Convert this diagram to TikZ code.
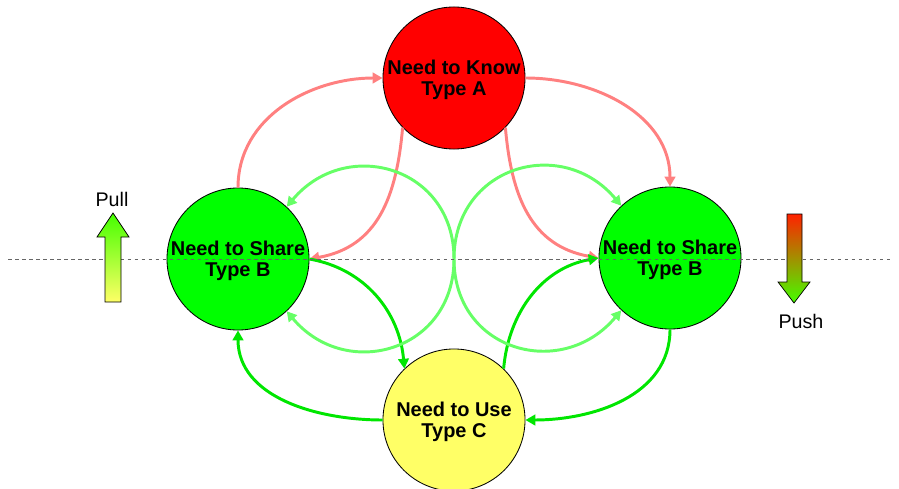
\documentclass[tikz,border=0pt]{standalone}
\usepackage{fontspec}
\setmainfont{Liberation Sans}
\usetikzlibrary{arrows.meta}
\definecolor{knowred}{HTML}{FF0000}
\definecolor{sharegreen}{HTML}{00FF00}
\definecolor{useyellow}{HTML}{FFFF66}
\definecolor{linkpink}{HTML}{FF8080}
\definecolor{linkgreen}{HTML}{00E600}
\definecolor{linklight}{HTML}{66FF66}
\definecolor{pushred}{HTML}{FF2200}
\definecolor{pullgreen}{HTML}{44FF00}
\definecolor{pullyellow}{HTML}{FFFF66}
\definecolor{levelgray}{HTML}{666666}

\begin{document}
\begin{tikzpicture}[
  x=0.025cm,y=0.025cm,
  >={Triangle[length=7pt,width=7.5pt]},
  need/.style={circle,draw=black,line width=.6pt,minimum size=3.55cm,
    inner sep=0pt,align=center,font=\bfseries\fontsize{14.2}{15}\selectfont,
    text depth=-4.5pt},
  link/.style={line width=2.1pt,->},
  blockarrow/.style={draw=black,line width=.5pt},
  every node/.style={font=\fontsize{14}{16}\selectfont}
]
  \useasboundingbox (0,0) rectangle (899,488);
  \node[need,fill=knowred] (know) at (454,410) {Need to Know\\Type A};
  \node[need,fill=sharegreen] (shareL) at (238,229) {Need to Share\\Type B};
  \node[need,fill=sharegreen] (shareR) at (670,230) {Need to Share\\Type B};
  \node[need,fill=useyellow] (use) at (454,68) {Need to Use\\Type C};
  \coordinate (cross) at (454,229);
  \coordinate (levelL) at (8,229);
  \coordinate (levelR) at (890,229);

  % pull from A
  \draw[link,linkpink] (shareL.north) to[out=90,in=180] (know.west);
  \draw[link,linkpink] (know.east) to[out=0,in=90] (shareR.north);
  \draw[link,linkpink] (know.224) to[out=-95,in=10,looseness=1.1] (shareL.east);
  \draw[link,linkpink] (know.-44) to[out=-85,in=170,looseness=1.1] (shareR.west);
  % B and C
  \draw[link,linkgreen] (shareL.east) to[out=-10,in=95] (use.134);
  \draw[link,linkgreen] (use.46) to[out=85,in=190] (shareR.west);
  \draw[link,linkgreen] (use.west) to[out=180,in=-90] (shareL.south);
  \draw[link,linkgreen] (shareR.south) to[out=-90,in=0] (use.east);
  % B loops
  \draw[link,linklight,<->] (shareL.47) to[out=50,in=90,looseness=1.35] (cross)
    to[out=-90,in=-50,looseness=1.35] (shareL.-47);
  \draw[link,linklight,<->] (shareR.133) to[out=130,in=90,looseness=1.35] (cross)
    to[out=-90,in=-130,looseness=1.35] (shareR.-133);

  \draw[levelgray,line width=.7pt,dash pattern=on 2.5pt off 2.5pt] (levelL) -- (levelR);

  \shade[blockarrow,top color=pullgreen,bottom color=pullyellow]
    (105,186) -- (105,251) -- (97,251) -- (113,275) -- (129,251) -- (121,251)
    -- (121,186) -- cycle;
  \node (pull) at (112,289) {Pull};
  \shade[blockarrow,top color=pushred,bottom color=pullgreen]
    (787,274) -- (787,206) -- (778,206) -- (794,185) -- (810,206) -- (802,206)
    -- (802,274) -- cycle;
  \node (push) at (801,167) {Push};
\end{tikzpicture}
\end{document}
